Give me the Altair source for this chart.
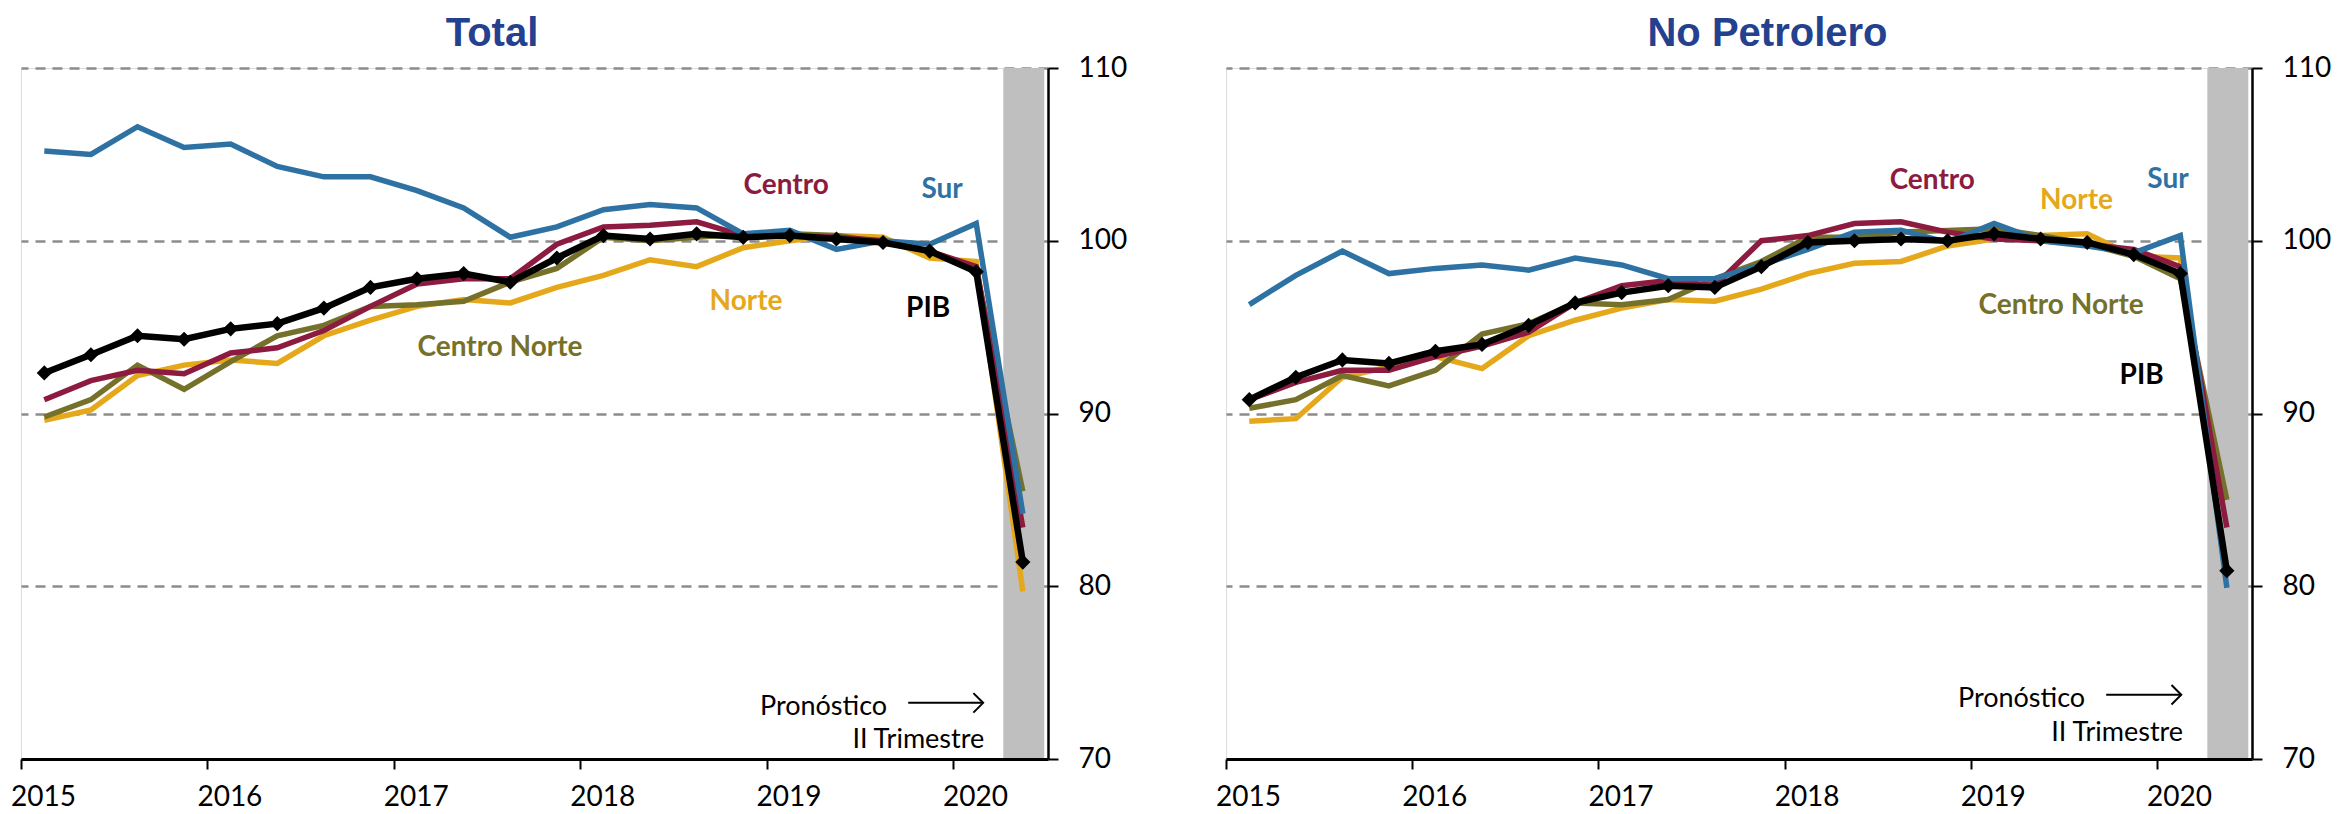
import altair as alt
import pandas as pd

# ---------------- data ----------------
trimestres = ["2015-1", "2015-2", "2015-3", "2015-4",
              "2016-1", "2016-2", "2016-3", "2016-4",
              "2017-1", "2017-2", "2017-3", "2017-4",
              "2018-1", "2018-2", "2018-3", "2018-4",
              "2019-1", "2019-2", "2019-3", "2019-4",
              "2020-1", "2020-2"]

# Total
sur_total = [105.2, 105.0, 106.6, 105.4, 105.6, 104.3, 103.7, 103.7, 102.9, 101.9, 100.2,
             100.8, 101.8, 102.1, 101.9, 100.4, 100.6, 99.5, 100.0, 99.8, 101.0, 84.2]
centro_total = [90.8, 91.9, 92.5, 92.3, 93.5, 93.8, 94.8, 96.2, 97.5, 97.8, 97.8,
                99.8, 100.8, 100.9, 101.1, 100.3, 100.3, 100.2, 100.0, 99.4, 98.5, 83.4]
norte_total = [89.6, 90.2, 92.2, 92.8, 93.1, 92.9, 94.5, 95.4, 96.2, 96.6, 96.4,
               97.3, 98.0, 98.9, 98.5, 99.6, 100.0, 100.3, 100.2, 99.0, 98.8, 79.7]
cnorte_total = [89.8, 90.8, 92.8, 91.4, 93.0, 94.5, 95.1, 96.2, 96.3, 96.5, 97.6,
                98.4, 100.2, 100.0, 100.2, 100.4, 100.4, 100.3, 99.9, 99.4, 98.3, 85.5]
pib_total = [92.35, 93.4, 94.5, 94.3, 94.9, 95.2, 96.1, 97.3, 97.8, 98.1, 97.6,
             99.0, 100.3, 100.1, 100.4, 100.2, 100.3, 100.1, 99.9, 99.4, 98.2, 81.4]

# No Petrolero
sur_np = [96.3, 98.0, 99.4, 98.1, 98.4, 98.6, 98.3, 99.0, 98.6, 97.8, 97.8,
          98.6, 99.5, 100.5, 100.6, 99.9, 101.0, 100.0, 99.7, 99.3, 100.3, 79.9]
centro_np = [90.8, 91.8, 92.5, 92.5, 93.3, 93.9, 94.7, 96.4, 97.4, 97.7, 97.4,
             100.0, 100.3, 101.0, 101.1, 100.5, 100.1, 100.0, 99.8, 99.5, 98.5, 83.4]
norte_np = [89.55, 89.7, 92.1, 92.7, 93.3, 92.6, 94.5, 95.4, 96.1, 96.6, 96.5,
            97.2, 98.1, 98.7, 98.8, 99.7, 100.1, 100.3, 100.4, 99.1, 99.0, 80.7]
cnorte_np = [90.3, 90.8, 92.2, 91.6, 92.5, 94.6, 95.2, 96.4, 96.3, 96.6, 97.8,
             98.8, 100.2, 100.2, 100.5, 100.6, 100.7, 100.3, 99.8, 99.1, 97.8, 85.0]
pib_np = [90.8, 92.1, 93.1, 92.9, 93.6, 94.0, 95.1, 96.4, 97.0, 97.4, 97.3,
          98.5, 99.9, 100.0, 100.1, 100.0, 100.4, 100.1, 99.9, 99.2, 98.1, 80.9]

series = ["Norte", "Centro Norte", "Centro", "Sur", "PIB"]
colores = {"Norte": "#E5A81A", "Centro Norte": "#76712A", "Centro": "#8C1B3F",
           "Sur": "#2E72A3", "PIB": "#000000"}

years = [2015, 2016, 2017, 2018, 2019, 2020]
y_ticks = [70, 80, 90, 100, 110]

# forecast band (2020 Q2)
band_start = 2020.27
band_end = 2020.49

# annotation anchors (data coordinates)
labels_total = [("Centro", 2019.105, 102.71), ("Sur", 2019.942, 102.50),
                ("Norte", 2018.89, 96.0), ("PIB", 2019.867, 95.59),
                ("Centro Norte", 2017.57, 93.3)]
labels_np = [("Centro", 2018.793, 103.0), ("Norte", 2019.568, 101.84),
             ("Sur", 2020.059, 103.06), ("Centro Norte", 2019.485, 95.76),
             ("PIB", 2019.917, 91.71)]
# (Pronostico right x, y, arrow x1, arrow x2, arrow y, II Trimestre right x, y)
pron_total = (2019.647, 72.56, 2019.76, 2020.162, 73.25, 2020.168, 70.61)
pron_np = (2019.614, 73.02, 2019.727, 2020.13, 73.72, 2020.14, 71.04)

FONT = "Lato"
TITLE_FONT = "Liberation Sans"
TITLE_COLOR = "#24418F"


def t_of(s):
    y, q = s.split("-")
    return int(y) + (int(q) - 0.5) / 4


tvals = [t_of(s) for s in trimestres]

XS = alt.Scale(domain=[2015, 2020.51], nice=False, zero=False)
YS = alt.Scale(domain=[70, 110], nice=False, zero=False)

x_axis = alt.Axis(values=years, format="d", title=None, grid=False,
                  labelOffset=22, tickSize=10, tickWidth=2, tickColor="black",
                  domainColor="black", domainWidth=3, labelFont=FONT,
                  labelFontSize=28, labelColor="black", labelPadding=14,
                  labelFlush=False, zindex=1)
y_axis = alt.Axis(orient="right", values=y_ticks, title=None, grid=True,
                  gridDash=[10, 7], gridColor="#8C8C8C", gridWidth=2.5,
                  tickSize=10, tickWidth=2, tickColor="black",
                  domainColor="black", domainWidth=2.5, labelFont=FONT,
                  labelFontSize=28, labelColor="black", labelPadding=20)


def X(field):
    return alt.X(field, type="quantitative", scale=XS, axis=x_axis)


def Y(field):
    return alt.Y(field, type="quantitative", scale=YS, axis=y_axis)


def panel(values, labels, title, title_x, pron):
    layers = []
    band = pd.DataFrame({"x1": [band_start], "x2": [band_end], "y1": [70], "y2": [110]})
    layers.append(alt.Chart(band).mark_rect(color="#BFBFBF").encode(
        x=X("x1"), x2=alt.X2("x2"), y=Y("y1"), y2=alt.Y2("y2")))
    for name in series:
        df = pd.DataFrame({"t": tvals, "v": values[name]})
        sw = 6.5 if name == "PIB" else 5.5
        layers.append(alt.Chart(df).mark_line(color=colores[name], strokeWidth=sw,
                                              strokeJoin="miter").encode(x=X("t"), y=Y("v")))
    dfp = pd.DataFrame({"t": tvals, "v": values["PIB"]})
    layers.append(alt.Chart(dfp).mark_point(shape="diamond", filled=True, color="black",
                                            size=230, opacity=1).encode(x=X("t"), y=Y("v")))
    lab = pd.DataFrame({"label": [l[0] for l in labels], "t": [l[1] for l in labels],
                        "v": [l[2] for l in labels],
                        "c": [colores[l[0]] for l in labels]})
    layers.append(alt.Chart(lab).mark_text(font=FONT, fontWeight="bold", fontSize=28,
                                           align="center", baseline="alphabetic").encode(
        x=X("t"), y=Y("v"), text="label:N", color=alt.Color("c:N", scale=None)))
    # Pronostico annotation
    (px1, py1, ax1, ax2, ay, px2, py2) = pron
    ann = pd.DataFrame({"t": [px1, px2], "v": [py1, py2],
                        "label": ["Pronóstico", "II Trimestre"]})
    layers.append(alt.Chart(ann).mark_text(font=FONT, fontSize=27, align="right",
                                           baseline="alphabetic", color="black").encode(
        x=X("t"), y=Y("v"), text="label:N"))
    arr = pd.DataFrame({"x1": [ax1], "x2": [ax2], "y": [ay]})
    layers.append(alt.Chart(arr).mark_rule(color="black", strokeWidth=2).encode(
        x=X("x1"), x2=alt.X2("x2"), y=Y("y")))
    layers.append(alt.Chart(arr).mark_point(shape="M-1,-1L0,0L-1,1", filled=False,
                                            color="black", strokeWidth=2, size=380,
                                            opacity=1).encode(x=X("x2"), y=Y("y")))
    tdf = pd.DataFrame({"t": [title_x], "v": [111.245], "label": [title]})
    layers.append(alt.Chart(tdf).mark_text(font=TITLE_FONT, fontWeight="bold", fontSize=40,
                                           align="center", baseline="alphabetic",
                                           color=TITLE_COLOR).encode(
        x=X("t"), y=Y("v"), text="label:N"))
    return alt.layer(*layers)


left = panel({"Norte": norte_total, "Centro Norte": cnorte_total, "Centro": centro_total,
              "Sur": sur_total, "PIB": pib_total},
             labels_total, "Total", 2017.527, pron_total).properties(width=1027, height=691)
right = panel({"Norte": norte_np, "Centro Norte": cnorte_np, "Centro": centro_np,
               "Sur": sur_np, "PIB": pib_np},
              labels_np, "No Petrolero", 2017.908, pron_np).properties(width=1026, height=691)

chart = alt.hconcat(left, right, spacing=178, bounds="flush").properties(
    autosize=alt.AutoSizeParams(type="pad"),
    padding={"left": 2, "top": 5, "right": 5, "bottom": 2},
).configure_view(stroke=None).configure(background="white")

chart.save("out.html", embed_options={"renderer": "svg", "actions": False})
